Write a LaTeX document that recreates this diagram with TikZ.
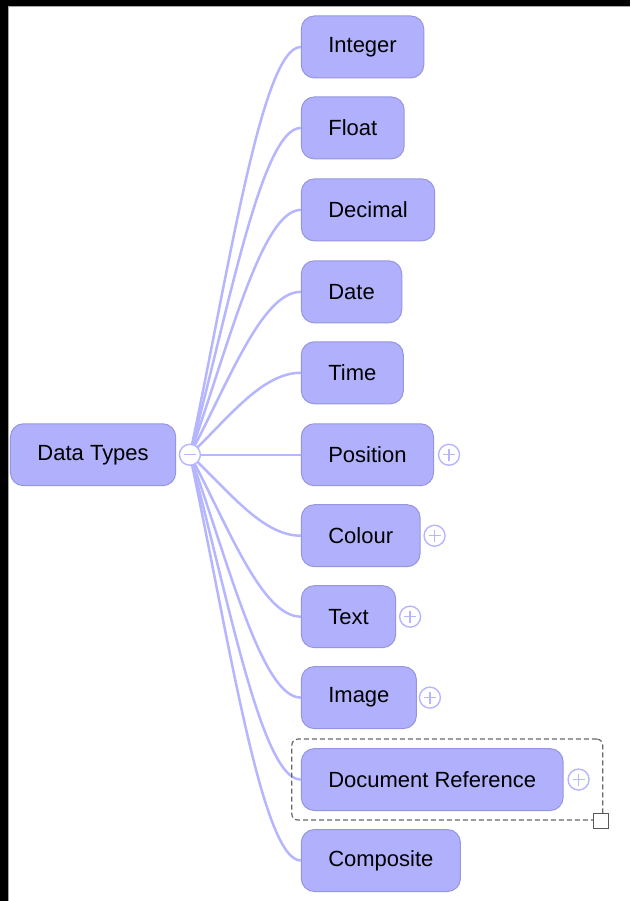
\documentclass[tikz,border=0pt]{standalone}
\usepackage{fontspec}
\setmainfont{Liberation Sans}
\usetikzlibrary{fit,calc}
\definecolor{nodefill}{RGB}{176,176,252}
\definecolor{nodeline}{RGB}{150,150,222}
\definecolor{linkcol}{RGB}{182,182,255}

\begin{document}
\begin{tikzpicture}[x=1pt,y=-1pt,
  topic/.style={rectangle,rounded corners=13pt,draw=nodeline,fill=nodefill,line width=1pt,minimum height=62pt,inner xsep=27pt,anchor=west,font=\fontsize{22}{26}\selectfont,text=black},
  link/.style={draw=linkcol,line width=2.5pt},
  toggle/.style={circle,draw=linkcol,fill=white,line width=1.4pt,minimum size=21pt,inner sep=0pt},
  collapser/.style={toggle,path picture={\draw[linkcol,line width=1.4pt] ([xshift=-6pt]path picture bounding box.center) -- ([xshift=6pt]path picture bounding box.center);}},
  expander/.style={toggle,path picture={\draw[linkcol,line width=1.4pt] ([xshift=-6pt]path picture bounding box.center) -- ([xshift=6pt]path picture bounding box.center) ([yshift=-6pt]path picture bounding box.center) -- ([yshift=6pt]path picture bounding box.center);}},
  selbox/.style={draw=black!60,dash pattern=on 5pt off 3pt,line width=1.2pt,rounded corners=6pt,inner sep=9pt},
  grip/.style={rectangle,draw=black!65,fill=white,line width=1.2pt,minimum size=15pt,inner sep=0pt}]
% frame
\fill[black] (0,0) rectangle (630,901);
\fill[white] (8,6) rectangle (630,901);
\draw[gray!70,line width=1pt] (8.5,901) -- (8.5,6.5) -- (630,6.5);
% topics
\node[topic] (types) at (10,455) {Data Types};
\coordinate (fork) at (190,455);
\node[topic] (int) at (301,47) {Integer};
\node[topic] (flt) at (301,128) {Float};
\node[topic] (dec) at (301,210) {Decimal};
\node[topic] (date) at (301,292) {Date};
\node[topic] (time) at (301,373) {Time};
\node[topic] (pos) at (301,455) {Position};
\node[topic] (col) at (301,536) {Colour};
\node[topic] (txt) at (301,617) {Text};
\node[topic] (img) at (301,698) {Image};
\node[topic] (docref) at (301,780) {Document Reference};
\node[topic] (comp) at (301,861) {Composite};
% branches
\draw[link] (fork) .. controls +(39,-184) and +(-39,0) .. (int.west);
\draw[link] (fork) .. controls +(39,-147) and +(-39,0) .. (flt.west);
\draw[link] (fork) .. controls +(39,-110) and +(-39,0) .. (dec.west);
\draw[link] (fork) .. controls +(39,-73) and +(-39,0) .. (date.west);
\draw[link] (fork) .. controls +(39,-37) and +(-39,0) .. (time.west);
\draw[link] (fork) -- (pos.west);
\draw[link] (fork) .. controls +(39,36) and +(-39,0) .. (col.west);
\draw[link] (fork) .. controls +(39,73) and +(-39,0) .. (txt.west);
\draw[link] (fork) .. controls +(39,109) and +(-39,0) .. (img.west);
\draw[link] (fork) .. controls +(39,146) and +(-39,0) .. (docref.west);
\draw[link] (fork) .. controls +(39,183) and +(-39,0) .. (comp.west);
\node[collapser] (forktoggle) at (fork) {};
% expand buttons
\node[expander] (posplus) at ([xshift=15pt]pos.east) {};
\node[expander] (colplus) at ([xshift=14pt]col.east) {};
\node[expander] (txtplus) at ([xshift=14pt]txt.east) {};
\node[expander] (imgplus) at ([xshift=13pt]img.east) {};
\node[expander] (docplus) at ([xshift=15pt]docref.east) {};
% selection
\coordinate (selright) at ([xshift=4pt]docplus.east);
\node[selbox,fit=(docref)(docplus)(selright)] (sel) {};
\node[grip] (selgrip) at ([xshift=-2pt]sel.south east) {};
\end{tikzpicture}
\end{document}
